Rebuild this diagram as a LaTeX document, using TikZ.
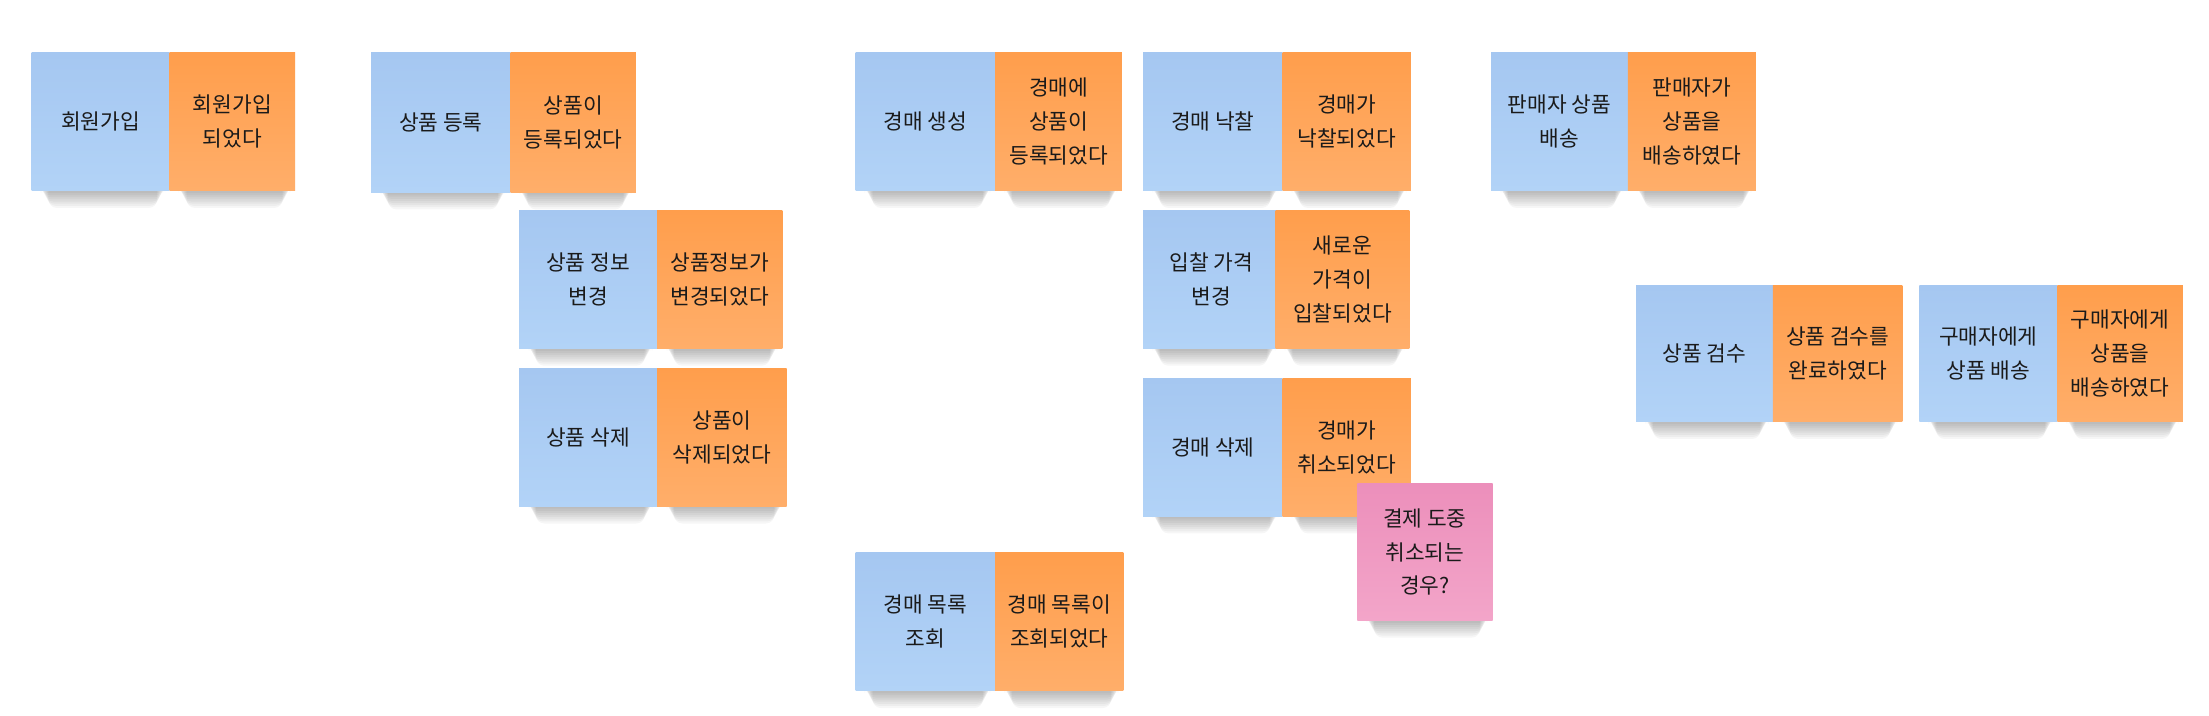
\documentclass[tikz,border=0pt]{standalone}
\usepackage{fontspec}
\newfontfamily\kr{Noto Sans CJK KR}
\definecolor{bluetop}{HTML}{A5C7F1}
\definecolor{bluebot}{HTML}{B2D3F7}
\definecolor{orgtop}{HTML}{FF9E4C}
\definecolor{orgbot}{HTML}{FFAE6A}
\definecolor{pinktop}{HTML}{EC8FBB}
\definecolor{pinkbot}{HTML}{F3A5C9}
\definecolor{notetext}{HTML}{1A1A1A}
\tikzset{
  notebase/.style={rectangle, inner sep=0pt, draw=none, align=center, anchor=north west,
    text=notetext, font=\kr\fontsize{7.6}{12}\selectfont},
  bluenote/.style={notebase, top color=bluetop, bottom color=bluebot},
  orangenote/.style={notebase, top color=orgtop, bottom color=orgbot},
  pinknote/.style={notebase, top color=pinktop, bottom color=pinkbot},
  noteshadow/.style={fill=black, opacity=0.035, rounded corners=3pt}
}
% name, x1, y1, x2, y2, style, text
\newcommand\sticky[7]{%
  \foreach \k in {1,...,8}{\fill[noteshadow] (#2+6+0.8*\k,#5-4) rectangle (#4-2-0.8*\k,#5+0.6+1.5*\k);}
  \node[#6, minimum width={(#4-#2)*0.5pt}, minimum height={(#5-#3)*0.5pt}] (#1) at (#2,#3) {#7};
}
\begin{document}
\begin{tikzpicture}[x=0.5pt,y=-0.5pt]
\fill[white] (0,0) rectangle (1568,508);
\useasboundingbox (0,0) rectangle (1568,508);
\sticky{b1}{22}{37}{120}{135}{bluenote}{회원가입}
\sticky{o1}{120}{37}{209}{135}{orangenote}{회원가입\\되었다}
\sticky{b2}{263}{37}{362}{136}{bluenote}{상품 등록}
\sticky{o2}{362}{37}{451}{136}{orangenote}{상품이\\등록되었다}
\sticky{b3}{368}{149}{466}{247}{bluenote}{상품 정보\\변경}
\sticky{o3}{466}{149}{555}{247}{orangenote}{상품정보가\\변경되었다}
\sticky{b4}{368}{261}{466}{359}{bluenote}{상품 삭제}
\sticky{o4}{466}{261}{558}{359}{orangenote}{상품이\\삭제되었다}
\sticky{b5}{607}{37}{706}{135}{bluenote}{경매 생성}
\sticky{o5}{706}{37}{796}{135}{orangenote}{경매에\\상품이\\등록되었다}
\sticky{b6}{607}{392}{706}{490}{bluenote}{경매 목록\\조회}
\sticky{o6}{706}{392}{797}{490}{orangenote}{경매 목록이\\조회되었다}
\sticky{b7}{811}{37}{910}{135}{bluenote}{경매 낙찰}
\sticky{o7}{910}{37}{1001}{135}{orangenote}{경매가\\낙찰되었다}
\sticky{b8}{811}{149}{908}{247}{bluenote}{입찰 가격\\변경}
\sticky{o8}{905}{149}{1000}{247}{orangenote}{새로운\\가격이\\입찰되었다}
\sticky{b9}{811}{268}{910}{366}{bluenote}{경매 삭제}
\sticky{o9}{910}{268}{1001}{366}{orangenote}{경매가\\취소되었다}
\sticky{p1}{963}{343}{1059}{440}{pinknote}{결제 도중\\취소되는\\경우?}
\sticky{b10}{1058}{37}{1155}{135}{bluenote}{판매자 상품\\배송}
\sticky{o10}{1155}{37}{1246}{135}{orangenote}{판매자가\\상품을\\배송하였다}
\sticky{b11}{1161}{202}{1258}{299}{bluenote}{상품 검수}
\sticky{o11}{1258}{202}{1350}{299}{orangenote}{상품 검수를\\완료하였다}
\sticky{b12}{1362}{202}{1460}{299}{bluenote}{구매자에게\\상품 배송}
\sticky{o12}{1460}{202}{1549}{299}{orangenote}{구매자에게\\상품을\\배송하였다}
\end{tikzpicture}
\end{document}
